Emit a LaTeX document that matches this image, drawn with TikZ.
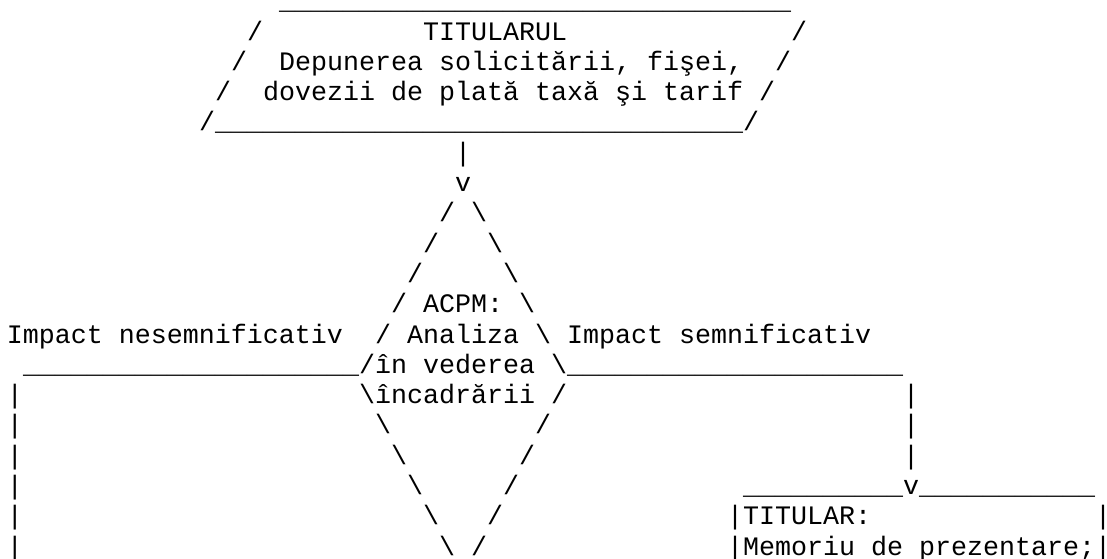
\documentclass[tikz,border=0pt]{standalone}
\usepackage{fontspec}
\setmonofont{Liberation Mono}

\tikzset{
	ascii/.style={anchor=base west,inner sep=0pt,outer sep=0pt,
		font=\ttfamily\fontsize{20pt}{22pt}\selectfont,text=black},
}
% one character cell: name, column, row, text
\newcommand\cell[4]{\node[ascii] (#1) at ({7+16*(#2)},{9.7+30.3*(#3)}) {#4};}
\newcommand\bars[1]{\foreach \k in {1,...,#1}{\_}}

\begin{document}
\begin{tikzpicture}[x=0.75pt,y=-0.75pt]
	\useasboundingbox (0,0) rectangle (1107,558);
	% titular
	\cell{ptop}{17}{0}{\bars{32}}
	\cell{pl1}{15}{1}{/}
	\cell{titularul}{26}{1}{TITULARUL}
	\cell{pr1}{49}{1}{/}
	\cell{pl2}{14}{2}{/}
	\cell{depunere}{17}{2}{Depunerea solicitării, fişei,}
	\cell{pr2}{48}{2}{/}
	\cell{pl3}{13}{3}{/}
	\cell{dovezi}{16}{3}{dovezii de plată taxă şi tarif}
	\cell{pr3}{47}{3}{/}
	\cell{pl4}{12}{4}{/}
	\cell{pbot}{13}{4}{\bars{33}}
	\cell{pr4}{46}{4}{/}
	\cell{stem}{28}{5}{|}
	\cell{tip}{28}{6}{v}
	% decizie ACPM
	\foreach \r in {0,...,5}{
		\cell{dl\r}{27-\r}{7+\r}{/}
		\cell{dr\r}{29+\r}{7+\r}{\textbackslash}
		\cell{bl\r}{22+\r}{13+\r}{\textbackslash}
		\cell{br\r}{34-\r}{13+\r}{/}
		\cell{vl\r}{0}{13+\r}{|}
	}
	\cell{acpm}{26}{10}{ACPM:}
	\cell{analiza}{25}{11}{Analiza}
	\cell{vederea}{23}{12}{în vederea}
	\cell{incadrare}{23}{13}{încadrării}
	\cell{nesemn}{0}{11}{Impact nesemnificativ}
	\cell{semn}{35}{11}{Impact semnificativ}
	\cell{hl}{1}{12}{\bars{21}}
	\cell{hr}{35}{12}{\bars{21}}
	\foreach \r in {0,1,2}{
		\cell{vr\r}{56}{13+\r}{|}
	}
	% memoriu
	\cell{mtopl}{46}{16}{\bars{10}}
	\cell{mtip}{56}{16}{v}
	\cell{mtopr}{57}{16}{\bars{11}}
	\cell{ml1}{45}{17}{|}
	\cell{titular}{46}{17}{TITULAR:}
	\cell{mr1}{68}{17}{|}
	\cell{ml2}{45}{18}{|}
	\cell{memoriu}{46}{18}{Memoriu de prezentare;}
	\cell{mr2}{68}{18}{|}
\end{tikzpicture}
\end{document}
